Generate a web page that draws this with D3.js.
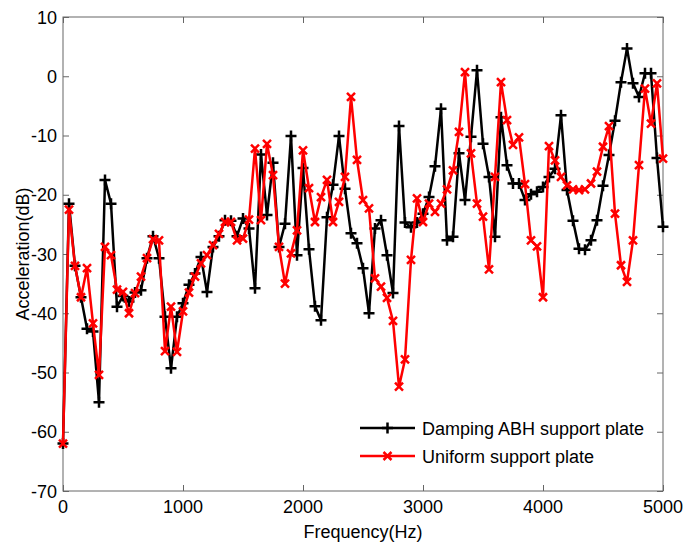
<!DOCTYPE html>
<html>
<head>
<meta charset="utf-8">
<script src="https://cdn.jsdelivr.net/npm/d3@7"></script>
<style>
body { margin: 0; background: #fff; }
text { font-family: "Liberation Sans", Arial, sans-serif; }
</style>
</head>
<body>
<svg id="chart" width="686" height="545"></svg>
<script>
var freqs = [0, 50, 100, 150, 200, 250, 300, 350, 400, 450, 500, 550, 600, 650, 700, 750, 800, 850, 900, 950,
	1000, 1050, 1100, 1150, 1200, 1250, 1300, 1350, 1400, 1450, 1500, 1550, 1600, 1650, 1700, 1750, 1800, 1850, 1900, 1950,
	2000, 2050, 2100, 2150, 2200, 2250, 2300, 2350, 2400, 2450, 2500, 2550, 2600, 2650, 2700, 2750, 2800, 2850, 2900, 2950,
	3000, 3050, 3100, 3150, 3200, 3250, 3300, 3350, 3400, 3450, 3500, 3550, 3600, 3650, 3700, 3750, 3800, 3850, 3900, 3950,
	4000, 4050, 4100, 4150, 4200, 4250, 4300, 4350, 4400, 4450, 4500, 4550, 4600, 4650, 4700, 4750, 4800, 4850, 4900, 4950, 5000];

// Damping ABH support plate
var abhValues = [-62, -21.5, -32, -37.3, -42.6, -43.1, -55, -17.5, -21.5, -38.9,
	-37.1, -38, -36.5, -36.1, -30.7, -27, -30.7, -40.6, -49.3, -40.6,
	-38.3, -35.2, -33.3, -30.5, -36.4, -28.8, -27, -24.3, -24.4, -27,
	-24, -25.7, -35.8, -13.2, -23.4, -14.6, -28.8, -24.9, -10.1, -30.2,
	-15.5, -29.2, -38.8, -41.2, -23.8, -18.3, -10.1, -19, -26.5, -28.2,
	-32.4, -40, -25.7, -24.3, -30.2, -36.6, -8.4, -24.7, -25.5, -24.7,
	-23.2, -20.4, -15.2, -5.5, -27.7, -27.1, -13, -20.9, -10.2, 1.0,
	-11.4, -17, -27.1, -6.9, -15, -18.1, -18.1, -20.9, -19.9, -19.5,
	-18.7, -17, -15.6, -6.6, -19.2, -24.4, -29.1, -29.3, -27.7, -24.3,
	-18.5, -13.3, -7.5, -1.0, 4.7, -1.2, -3.5, 0.5, 0.5, -13.8, -25.4];

// Uniform support plate
var uniformValues = [-62, -22.5, -32, -37.3, -32.4, -41.7, -50.4, -28.8, -30.2, -36,
	-36.4, -40, -36.6, -33.8, -30.7, -27.5, -27.7, -46.4, -38.9, -46.5,
	-39.7, -36.5, -33.8, -31.6, -30.2, -28.5, -26.6, -24.6, -24.6, -27.7,
	-27.4, -24.2, -12.2, -24.3, -11.4, -16.7, -28.8, -35, -29.9, -26,
	-12.5, -18.9, -24.6, -20.4, -17.5, -24.6, -21.2, -17, -3.5, -14.1,
	-20.9, -22.3, -34.1, -35.5, -37.4, -41.3, -52.4, -47.8, -31, -20.6,
	-24.6, -21.5, -22.9, -21.5, -19.1, -15.9, -9.4, 0.7, -13, -21.5,
	-23.7, -32.6, -17, -1, -7.4, -11.6, -10.3, -18.2, -27.7, -28.7,
	-37.3, -11.8, -14.2, -17, -18.4, -19.1, -19.2, -19.1, -18.1, -16.1,
	-11.9, -8.4, -23.2, -31.9, -34.7, -27.7, -15, -2.1, -8, -1.2, -13.9];

var seriesNames = ["Damping ABH support plate", "Uniform support plate"];
var seriesColors = ["#000000", "#ff0000"];
var seriesMarkers = ["plus", "cross"];
var xTicks = [0, 1000, 2000, 3000, 4000, 5000];
var yTicks = [-70, -60, -50, -40, -30, -20, -10, 0, 10];

var plotLeft = 63, plotRight = 663, plotTop = 17, plotBottom = 491;
var axisColor = "#666";
var svg = d3.select("#chart");

var x = d3.scaleLinear().domain([0, 5000]).range([plotLeft, plotRight]);
var y = d3.scaleLinear().domain([-70, 10]).range([plotBottom, plotTop]);

// axes box with inward ticks on all four sides, labels added by hand below
function styleAxis(g) {
	g.select(".domain").remove();
	g.selectAll(".tick line").attr("stroke", axisColor).attr("stroke-width", 1);
	g.selectAll(".tick text").remove();
}
svg.append("g").attr("transform", "translate(0," + plotBottom + ")")
	.call(d3.axisBottom(x).tickValues(xTicks).tickSizeInner(-6).tickSizeOuter(0)).call(styleAxis);
svg.append("g").attr("transform", "translate(0," + plotTop + ")")
	.call(d3.axisTop(x).tickValues(xTicks).tickSizeInner(-6).tickSizeOuter(0)).call(styleAxis);
svg.append("g").attr("transform", "translate(" + plotLeft + ",0)")
	.call(d3.axisLeft(y).tickValues(yTicks).tickSizeInner(-6).tickSizeOuter(0)).call(styleAxis);
svg.append("g").attr("transform", "translate(" + plotRight + ",0)")
	.call(d3.axisRight(y).tickValues(yTicks).tickSizeInner(-6).tickSizeOuter(0)).call(styleAxis);
svg.append("rect").attr("x", plotLeft).attr("y", plotTop).attr("width", plotRight - plotLeft).attr("height", plotBottom - plotTop)
	.attr("fill", "none").attr("stroke", axisColor).attr("stroke-width", 1);

svg.selectAll(".xlabel").data(xTicks).enter().append("text").attr("class", "xlabel")
	.attr("x", function (d) { return x(d); }).attr("y", plotBottom + 22).attr("text-anchor", "middle")
	.style("font-size", "18px").attr("fill", "#000").text(function (d) { return String(d); });
svg.selectAll(".ylabel").data(yTicks).enter().append("text").attr("class", "ylabel")
	.attr("x", plotLeft - 6).attr("y", function (d) { return y(d) + 6.5; }).attr("text-anchor", "end")
	.style("font-size", "18px").attr("fill", "#000").text(function (d) { return String(d); });

svg.append("text").attr("x", (plotLeft + plotRight) / 2).attr("y", 538).attr("text-anchor", "middle")
	.style("font-size", "18px").text("Frequency(Hz)");
svg.append("text").attr("transform", "translate(29," + ((plotTop + plotBottom) / 2) + ") rotate(-90)")
	.attr("text-anchor", "middle").style("font-size", "18px").text("Acceleration(dB)");

function drawMarker(g, kind, cx, cy, color) {
	var s = kind == "plus" ? 5.5 : 4;
	var p;
	if (kind == "plus") p = "M" + (cx - s) + "," + cy + "H" + (cx + s) + "M" + cx + "," + (cy - s) + "V" + (cy + s);
	else p = "M" + (cx - s) + "," + (cy - s) + "L" + (cx + s) + "," + (cy + s) + "M" + (cx - s) + "," + (cy + s) + "L" + (cx + s) + "," + (cy - s);
	g.append("path").attr("d", p).attr("stroke", color).attr("stroke-width", 2.5).attr("fill", "none");
}

var line = d3.line().x(function (d) { return x(d[0]); }).y(function (d) { return y(d[1]); });
var allValues = [abhValues, uniformValues];
for (var i = 0; i < allValues.length; i++) {
	var pts = freqs.map(function (f, j) { return [f, allValues[i][j]]; });
	var g = svg.append("g");
	g.append("path").datum(pts).attr("d", line).attr("fill", "none")
		.attr("stroke", seriesColors[i]).attr("stroke-width", 2.5).attr("stroke-linejoin", "round");
	for (var j = 0; j < pts.length; j++) {
		drawMarker(g, seriesMarkers[i], x(pts[j][0]), y(pts[j][1]), seriesColors[i]);
	}
}

// legend, no box
var legendY = [428, 456];
for (var i = 0; i < seriesNames.length; i++) {
	var lg = svg.append("g");
	lg.append("line").attr("x1", 360).attr("x2", 415).attr("y1", legendY[i]).attr("y2", legendY[i])
		.attr("stroke", seriesColors[i]).attr("stroke-width", 2.5);
	drawMarker(lg, seriesMarkers[i], 387.5, legendY[i], seriesColors[i]);
	lg.append("text").attr("x", 422).attr("y", legendY[i] + 6.5).style("font-size", "18px")
		.attr("fill", "#000").text(seriesNames[i]);
}
</script>
</body>
</html>
